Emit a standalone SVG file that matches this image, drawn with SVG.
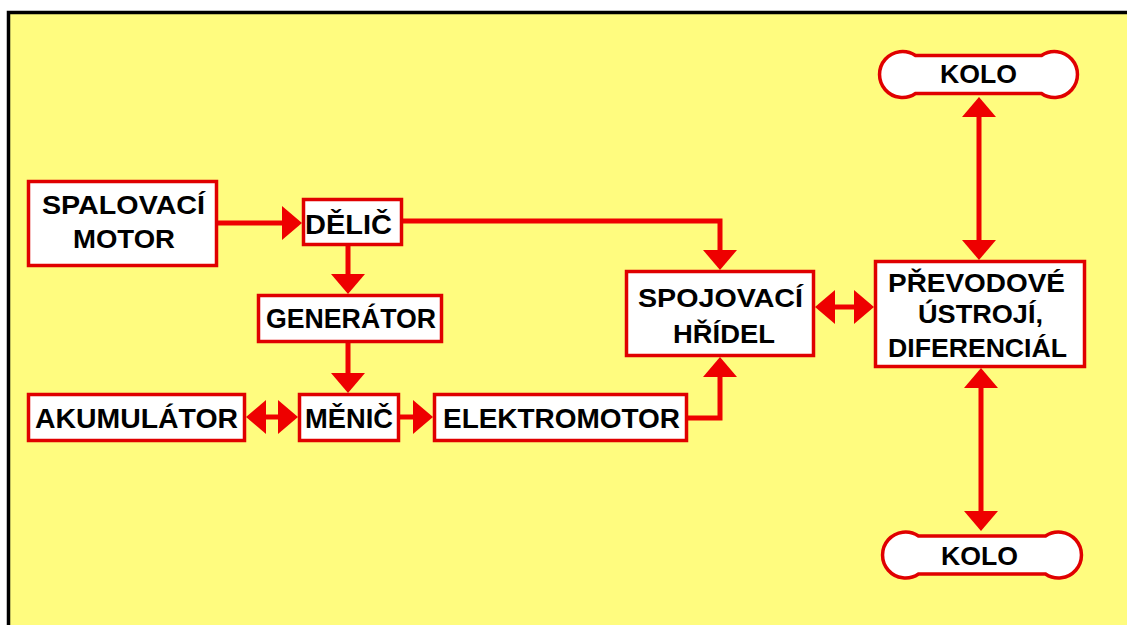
<svg xmlns="http://www.w3.org/2000/svg" width="1127" height="625" viewBox="0 0 1127 625">
  <style>
    .box { fill: #ffffff; stroke: #e00000; stroke-width: 3.5; }
    .conn { fill: none; stroke: #ee0000; stroke-width: 5; stroke-linejoin: miter; }
    .t { font-family: "Liberation Sans", Arial, sans-serif; font-weight: bold; fill: #000000; text-anchor: middle; lengthAdjust: spacingAndGlyphs; }
    .s25 { font-size: 25px; }
    .s27 { font-size: 27px; }
  </style>
  <defs>
    <marker id="ah" viewBox="0 0 20 34" refX="10" refY="17" markerWidth="20" markerHeight="34" markerUnits="userSpaceOnUse" orient="auto-start-reverse">
      <path d="M0,0 L20,17 L0,34 Z" fill="#ee0000"/>
    </marker>
  </defs>

  <rect x="0" y="0" width="1127" height="625" fill="#ffffff"/>
  <rect x="8.5" y="12.5" width="1140" height="640" fill="#fffc7f" stroke="#000000" stroke-width="3.5"/>

  <g id="connectors">
    <path class="conn" d="M218,223 H292" marker-end="url(#ah)"/>
    <path class="conn" d="M348,246 V284" marker-end="url(#ah)"/>
    <path class="conn" d="M348,343 V383" marker-end="url(#ah)"/>
    <path class="conn" d="M256,417 H288" marker-start="url(#ah)" marker-end="url(#ah)"/>
    <path class="conn" d="M400,417 H423" marker-end="url(#ah)"/>
    <path class="conn" d="M403,221 H720 V260" marker-end="url(#ah)"/>
    <path class="conn" d="M688,418 H720 V367" marker-end="url(#ah)"/>
    <path class="conn" d="M825,307 H864" marker-start="url(#ah)" marker-end="url(#ah)"/>
    <path class="conn" d="M979,107 V250" marker-start="url(#ah)" marker-end="url(#ah)"/>
    <path class="conn" d="M981,378 V521" marker-start="url(#ah)" marker-end="url(#ah)"/>
  </g>

  <g id="spalovaci-motor">
    <rect class="box" x="28.5" y="181.5" width="188" height="84"/>
    <text class="t s25" x="123.5" y="214" textLength="163" lengthAdjust="spacingAndGlyphs">SPALOVACÍ</text>
    <text class="t s25" x="124" y="248" textLength="102" lengthAdjust="spacingAndGlyphs">MOTOR</text>
  </g>

  <g id="delic">
    <rect class="box" x="303.5" y="199.5" width="98" height="45"/>
    <text class="t s27" x="348.5" y="234" textLength="87" lengthAdjust="spacingAndGlyphs">DĚLIČ</text>
  </g>

  <g id="generator">
    <rect class="box" x="258.5" y="295.5" width="183" height="46"/>
    <text class="t s27" x="351" y="328" textLength="170" lengthAdjust="spacingAndGlyphs">GENERÁTOR</text>
  </g>

  <g id="akumulator">
    <rect class="box" x="28.5" y="394.5" width="216" height="46"/>
    <text class="t s27" x="136.5" y="428" textLength="203" lengthAdjust="spacingAndGlyphs">AKUMULÁTOR</text>
  </g>

  <g id="menic">
    <rect class="box" x="299.5" y="394.5" width="99" height="46"/>
    <text class="t s27" x="349" y="428" textLength="88" lengthAdjust="spacingAndGlyphs">MĚNIČ</text>
  </g>

  <g id="elektromotor">
    <rect class="box" x="434.5" y="394.5" width="252" height="46"/>
    <text class="t s27" x="561.5" y="428" textLength="237" lengthAdjust="spacingAndGlyphs">ELEKTROMOTOR</text>
  </g>

  <g id="spojovaci-hridel">
    <rect class="box" x="626.5" y="271.5" width="187" height="84"/>
    <text class="t s25" x="720.5" y="307" textLength="165" lengthAdjust="spacingAndGlyphs">SPOJOVACÍ</text>
    <text class="t s25" x="724" y="343" textLength="102" lengthAdjust="spacingAndGlyphs">HŘÍDEL</text>
  </g>

  <g id="prevodove-ustroji">
    <rect class="box" x="875.5" y="261.5" width="209" height="105"/>
    <text class="t s25" x="976.5" y="292" textLength="177" lengthAdjust="spacingAndGlyphs">PŘEVODOVÉ</text>
    <text class="t s25" x="980.5" y="323" textLength="125" lengthAdjust="spacingAndGlyphs">ÚSTROJÍ,</text>
    <text class="t s25" x="977.5" y="357" textLength="179" lengthAdjust="spacingAndGlyphs">DIFERENCIÁL</text>
  </g>

  <g id="kolo-horni">
    <path class="box" d="M915.5,55.5 H1041.5 A23,23 0 1 1 1041.5,93.5 H915.5 A23,23 0 1 1 915.5,55.5 Z"/>
    <text class="t s25" x="978.5" y="83" textLength="77" lengthAdjust="spacingAndGlyphs">KOLO</text>
  </g>

  <g id="kolo-dolni">
    <path class="box" d="M918.5,536 H1045.5 A23,23 0 1 1 1045.5,574 H918.5 A23,23 0 1 1 918.5,536 Z"/>
    <text class="t s25" x="979.5" y="565" textLength="77" lengthAdjust="spacingAndGlyphs">KOLO</text>
  </g>
</svg>
